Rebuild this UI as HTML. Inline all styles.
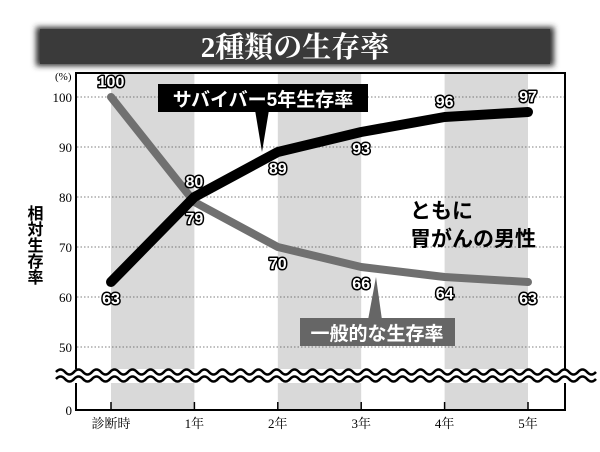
<!DOCTYPE html>
<html><head><meta charset="utf-8"><style>
body{margin:0;background:#fff;width:600px;height:452px;overflow:hidden}
svg{display:block}
</style></head><body>
<svg id="chart" width="600" height="452" xmlns="http://www.w3.org/2000/svg" font-family="Liberation Sans, Noto Sans CJK JP, sans-serif">
<defs><filter id="blur" x="-5%" y="-30%" width="110%" height="160%"><feGaussianBlur stdDeviation="3"/></filter></defs>
<g>
<rect x="36" y="27" width="518" height="39" fill="#333" filter="url(#blur)"/>
<rect x="40" y="29" width="510" height="35" fill="#3a3a3a"/>
<text x="295" y="57" text-anchor="middle" fill="#fff" font-size="29" font-weight="bold" font-family="Liberation Serif, Noto Serif CJK SC, serif">2種類の生存率</text>
</g>
<g id="bands"></g>
<g id="grid"></g>
<rect x="76" y="73" width="489" height="337" fill="none" stroke="#000" stroke-width="2"/>
<g id="axes"></g>
<g fill="none" stroke="#000" stroke-width="2.5">
<rect x="56" y="369" width="530" height="14" fill="#fff" stroke="none"/>
<path id="w1"/><path id="w2"/>
</g>
<text x="55" y="80" font-size="11" font-family="Liberation Serif, serif">(%)</text>
<text x="33" y="205" font-size="16" font-weight="bold" writing-mode="tb" font-family="Liberation Sans, Noto Sans CJK JP, sans-serif">相対生存率</text>
<g id="series"></g>
<g>
<rect x="158" y="84" width="210" height="28" fill="#000"/>
<path d="M255 110 L269 110 L262 152 Z" fill="#000"/>
<text x="263" y="106" text-anchor="middle" fill="#fff" font-size="19" font-weight="bold">サバイバー5年生存率</text>
</g>
<g>
<rect x="300" y="318" width="155" height="28" fill="#666"/>
<path d="M368 320 L382 320 L376 277 Z" fill="#666"/>
<text x="377" y="340" text-anchor="middle" fill="#fff" font-size="19" font-weight="bold">一般的な生存率</text>
</g>
<g font-size="21" font-weight="bold">
<text x="410" y="218">ともに</text>
<text x="410" y="246">胃がんの男性</text>
</g>
<g id="labels"></g>
</svg>
<script>
const categories=["診断時","1年","2年","3年","4年","5年"];
const survivorValues=[63,80,89,93,96,97];
const generalValues=[100,79,70,66,64,63];
const yTicks=[0,50,60,70,80,90,100];
const NS="http://www.w3.org/2000/svg";
const xs=i=>111+i*83.4;
const ys=v=>v===0?410:97+(100-v)*5;
function mk(t,a,p){const e=document.createElementNS(NS,t);for(const k in a)e.setAttribute(k,a[k]);(p||document.getElementById('chart')).appendChild(e);return e;}
const bands=document.getElementById('bands');
for(let i=0;i<categories.length-1;i+=2){const r=mk('rect',{x:xs(i),y:74,width:xs(i+1)-xs(i),height:335,fill:'#d9d9d9'},bands);

}
const grid=document.getElementById('grid'),axes=document.getElementById('axes');
yTicks.forEach(v=>{const y=ys(v);
if(v>0){const l=mk('line',{x1:77,x2:564,y1:y,y2:y,stroke:'#555','stroke-width':0.8,'stroke-dasharray':'1.5 2'},grid);

}
const t=mk('text',{x:72,y:y+5,'text-anchor':'end','font-size':13,'font-family':'Liberation Serif, serif'},axes);t.textContent=v;

});
categories.forEach((c,i)=>{const x=xs(i);
mk('line',{x1:x,x2:x,y1:402,y2:410,stroke:'#000','stroke-width':1.5},axes);
const t=mk('text',{x:x,y:428,'text-anchor':'middle','font-size':13,'font-family':'Liberation Serif, Noto Serif CJK SC, serif'},axes);t.textContent=c;

});
function wave(y0){let d='M56 '+y0;for(let x=56;x<586;x+=18){d+=' q4.5 -5 9 0 q4.5 5 9 0';}return d;}
document.getElementById('w1').setAttribute('d',wave(372));
document.getElementById('w2').setAttribute('d',wave(379));
const series=document.getElementById('series');
function line(vals,col,w,name){const p=mk('polyline',{points:vals.map((v,i)=>xs(i)+','+ys(v)).join(' '),fill:'none',stroke:col,'stroke-width':w,'stroke-linejoin':'round','stroke-linecap':'round'},series);

}
line(generalValues,'#707070',8,'general-survival-line');
line(survivorValues,'#000',10,'survivor-survival-line');
const labels=document.getElementById('labels');
function lab(vals,name,below){vals.forEach((v,i)=>{const off=below(i)?22:-10;
const t=mk('text',{x:xs(i),y:ys(v)+off,'text-anchor':'middle','font-size':16,'font-weight':'bold',fill:'#fff',stroke:'#000','stroke-width':3,'paint-order':'stroke','stroke-linejoin':'round'},labels);
t.textContent=v;

});}
lab(survivorValues,'survivor',i=>i===0||i===2||i===3);
lab(generalValues,'general',i=>i!==0);
</script>
</body></html>
